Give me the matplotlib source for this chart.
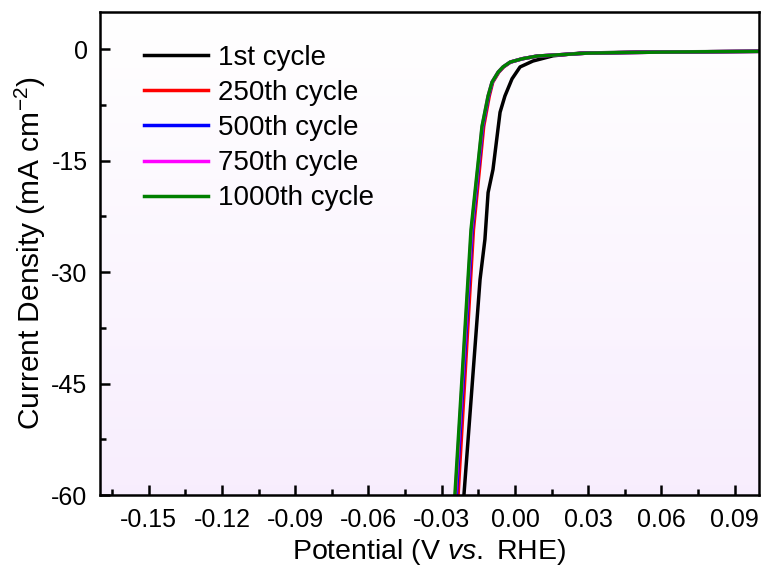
import numpy as np
import matplotlib
matplotlib.use("Agg")
import matplotlib.pyplot as plt
from matplotlib.colors import LinearSegmentedColormap

plt.rcParams['font.family'] = ['Liberation Sans', 'DejaVu Sans']
plt.rcParams['mathtext.fontset'] = 'custom'
plt.rcParams['mathtext.rm'] = 'Liberation Sans'
plt.rcParams['mathtext.it'] = 'Liberation Sans:italic'
plt.rcParams['axes.unicode_minus'] = False

# Data (potential in V vs RHE, current density in mA cm^-2)
pot_1st = [-0.0209, -0.0143, -0.0123, -0.0110, -0.0090, -0.0061, -0.0041, -0.0012,
           0.0021, 0.0074, 0.0156, 0.0267, 0.0500, 0.1000]
j_1st = [-60, -31, -25.6, -19.3, -16.2, -8.5, -6.3, -4.0, -2.4, -1.6, -0.9, -0.54, -0.4, -0.3]

pot_250 = [-0.0233, -0.0170, -0.0128, -0.0105, -0.0091, -0.0066, -0.0046, -0.0018,
           0.0030, 0.0091, 0.0295, 0.0600, 0.1000]
j_250 = [-60, -24.3, -10.4, -6.3, -4.45, -3.1, -2.4, -1.75, -1.3, -0.94, -0.54, -0.4, -0.3]

pot_500 = [-0.0240, -0.0175, -0.0132, -0.0108, -0.0093, -0.0068, -0.0048, -0.0019,
           0.0030, 0.0090, 0.0295, 0.0600, 0.1000]
j_500 = [-60, -24.3, -10.4, -6.3, -4.45, -3.1, -2.4, -1.75, -1.3, -0.94, -0.54, -0.4, -0.3]

pot_750 = [-0.0244, -0.0178, -0.0134, -0.0110, -0.0094, -0.0069, -0.0049, -0.0020,
           0.0030, 0.0090, 0.0295, 0.0600, 0.1000]
j_750 = [-60, -24.3, -10.4, -6.3, -4.45, -3.1, -2.4, -1.75, -1.3, -0.94, -0.54, -0.4, -0.3]

pot_1000 = [-0.0246, -0.0180, -0.0135, -0.0110, -0.0094, -0.0069, -0.0049, -0.0020,
            0.0030, 0.0090, 0.0295, 0.0600, 0.1000]
j_1000 = [-60, -24.3, -10.4, -6.3, -4.45, -3.1, -2.4, -1.75, -1.3, -0.94, -0.54, -0.4, -0.3]

labels = ["1st cycle", "250th cycle", "500th cycle", "750th cycle", "1000th cycle"]
colors = ["black", "red", "blue", "magenta", "green"]

fig = plt.figure(figsize=(7.64, 5.69), dpi=100)
ax = fig.add_axes([0.1309, 0.130, 0.8626, 0.849])

# light lavender gradient background, white at top
cmap = LinearSegmentedColormap.from_list("bg", [(1, 1, 1), (0.972, 0.932, 0.995)])
grad = np.linspace(0, 1, 256).reshape(-1, 1)
ax.imshow(grad, cmap=cmap, aspect='auto', extent=[0, 1, 0, 1],
          transform=ax.transAxes, zorder=0)

series = [(pot_1st, j_1st), (pot_250, j_250), (pot_500, j_500),
          (pot_750, j_750), (pot_1000, j_1000)]
for (x, y), lab, c in zip(series, labels, colors):
    ax.plot(x, y, color=c, lw=2.5, label=lab, zorder=2)

ax.set_xlim(-0.17, 0.1)
ax.set_ylim(-60, 5)
ax.set_xticks(np.arange(-0.15, 0.091, 0.03))
ax.set_xticklabels(["-0.15", "-0.12", "-0.09", "-0.06", "-0.03", "0.00", "0.03", "0.06", "0.09"])
ax.set_xticks(np.arange(-0.165, 0.1, 0.03), minor=True)
ax.set_yticks([0, -15, -30, -45, -60])
ax.set_yticks([-7.5, -22.5, -37.5, -52.5], minor=True)

ax.tick_params(which='both', direction='in', width=1.8, labelsize=18, top=False, right=False)
ax.tick_params(which='major', length=7, pad=9)
ax.tick_params(which='minor', length=4)
for s in ax.spines.values():
    s.set_linewidth(1.8)

ax.set_xlabel(r"Potential (V $\mathit{vs.}$ RHE)", fontsize=20.5, labelpad=4)
ax.set_ylabel(r"Current Density (mA cm$^{-2}$)", fontsize=21.5, labelpad=2)

ax.legend(loc='upper left', frameon=False, fontsize=20, handlelength=2.3,
          labelspacing=0.33, handletextpad=0.35, borderaxespad=0.0,
          bbox_to_anchor=(0.05, 0.955))

fig.savefig("out.png", dpi=100)
